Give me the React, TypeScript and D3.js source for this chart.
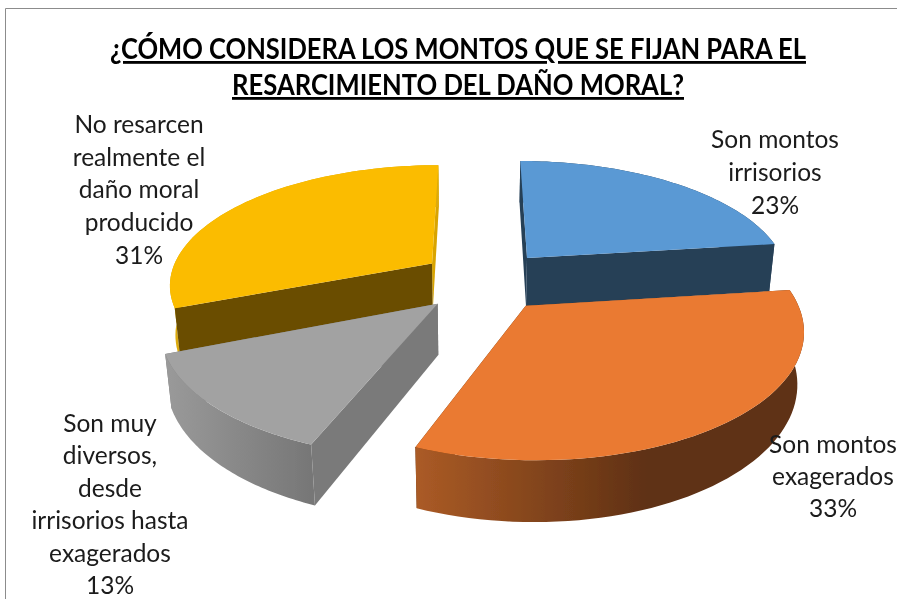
import React from "react";
import * as d3 from "d3";

// datos
const categories = [
  "Son montos irrisorios",
  "Son montos exagerados",
  "Son muy diversos, desde irrisorios hasta exagerados",
  "No resarcen realmente el daño moral producido",
];
const percents = [23, 33, 13, 31];
const titleLines = [
  "¿CÓMO CONSIDERA LOS MONTOS QUE SE FIJAN PARA EL",
  "RESARCIMIENTO DEL DAÑO MORAL?",
];
const labelLines = [
  ["Son montos", "irrisorios"],
  ["Son montos", "exagerados"],
  ["Son muy", "diversos,", "desde", "irrisorios hasta", "exagerados"],
  ["No resarcen", "realmente el", "daño moral", "producido"],
];

// colores por porcion
const topColors = ["#5a99d4", "#ea7a30", "#a2a2a2", "#fbbc00"];
const startFaceColors = ["#253f57", "#5e3013", "#7a7a7a", "#6b4e00"];
const endFaceColors = ["#253f57", "#5e3013", "#7a7a7a", "#d9a404"];
const wallStops = [
  ["#253f57", "#253f57"],
  ["#ab5b26", "#5e3013"],
  ["#9a9a9a", "#777777"],
  ["#dcaa08", "#dcaa08"],
];

// layout
const width = 897;
const height = 599;
const radius = 263;
const cx = 478;
const horizon = -446;
const planeH = 725;
const camDist = 1600;
const vanish = { x: 470, y: 3000 };
const sliceOffsets = [
  [50.5, -48],
  [46, 57],
  [-39, 53],
  [-47, -35],
];
const labelAnchors = [
  { x: 775, y: 148, dy: 33 },
  { x: 833, y: 453, dy: 32 },
  { x: 110, y: 432, dy: 32.4 },
  { x: 139, y: 133, dy: 32.7 },
];
const drawOrder = [3, 0, 2, 1];

function project(X: number, Y: number) {
  const p = camDist / (camDist - Y);
  return { x: cx + X * p, y: horizon + planeH * p, p };
}

// punto de la cara inferior, convergiendo hacia el punto de fuga
function dropDown(pt: { x: number; y: number; p: number }) {
  const depth = 49.5 * pt.p;
  const t = depth / (vanish.y - pt.y);
  return { x: pt.x + (vanish.x - pt.x) * t, y: pt.y + depth };
}

const pie = d3.pie<number>().sort(null).value((d) => d);
const slices = pie(percents);
const line = d3.line<{ x: number; y: number }>().x((d) => d.x).y((d) => d.y);

function buildSlice(i: number) {
  const s = slices[i];
  const [ox, oy] = sliceOffsets[i];
  const apex = project(ox, oy);
  const steps = d3.range(0, 61).map((k) => s.startAngle + ((s.endAngle - s.startAngle) * k) / 60);
  const rim = steps.map((a) => project(ox + radius * Math.sin(a), oy - radius * Math.cos(a)));
  const rimLow = rim.map(dropDown);
  const apexLow = dropDown(apex);
  const first = rim[0];
  const last = rim[rim.length - 1];
  return {
    top: line([apex, ...rim])! + "Z",
    wall: line([...rim, ...rimLow.slice().reverse()])! + "Z",
    startFace: line([apex, first, rimLow[0], apexLow])! + "Z",
    endFace: line([apex, last, rimLow[rimLow.length - 1], apexLow])! + "Z",
    xs: d3.extent(rim, (d) => d.x) as [number, number],
  };
}

const font = "Lato, 'Open Sans', sans-serif";

export default function App() {
  const built = percents.map((_, i) => buildSlice(i));
  return (
    <svg
      width={width}
      height={height}
      style={{ position: "absolute", left: 0, top: 0, background: "#fff" }}
      role="img"
      aria-label={categories.join(", ")}
    >
      <defs>
        {wallStops.map((stops, i) => (
          <linearGradient
            key={i}
            id={`wall-${i}`}
            gradientUnits="userSpaceOnUse"
            x1={built[i].xs[0]}
            x2={i === 1 ? 650 : built[i].xs[0] + 145}
            y1={0}
            y2={0}
          >
            <stop offset="0%" stopColor={stops[0]} />
            <stop offset="100%" stopColor={stops[1]} />
          </linearGradient>
        ))}
        <filter id="soft" x="-5%" y="-5%" width="110%" height="110%">
          <feGaussianBlur stdDeviation="0.45" />
        </filter>
      </defs>

      <g filter="url(#soft)">
        <path d={`M5.5,${height}V8.5H${width}`} fill="none" stroke="#8c8c8c" strokeWidth={1} />

        {drawOrder.map((i) => (
          <g key={categories[i]}>
            <path d={built[i].endFace} fill={endFaceColors[i]} />
            <path d={built[i].wall} fill={`url(#wall-${i})`} />
            <path d={built[i].startFace} fill={startFaceColors[i]} />
            <path d={built[i].top} fill={topColors[i]} />
          </g>
        ))}

        <g fontFamily={font} fontWeight={700} fontSize={28} fill="#000" textAnchor="middle">
          <text x={458} y={59} textLength={696} lengthAdjust="spacingAndGlyphs" textDecoration="underline">
            {titleLines[0]}
          </text>
          <text x={458} y={95} textLength={452} lengthAdjust="spacingAndGlyphs" textDecoration="underline">
            {titleLines[1]}
          </text>
        </g>

        <g fontFamily={font} fontSize={24.5} fill="#1a1a1a" textAnchor="middle">
          {labelLines.map((lines, i) => (
            <text key={i}>
              {[...lines, `${percents[i]}%`].map((t, j) => (
                <tspan key={j} x={labelAnchors[i].x} y={labelAnchors[i].y + j * labelAnchors[i].dy}>
                  {t}
                </tspan>
              ))}
            </text>
          ))}
        </g>
      </g>
    </svg>
  );
}
